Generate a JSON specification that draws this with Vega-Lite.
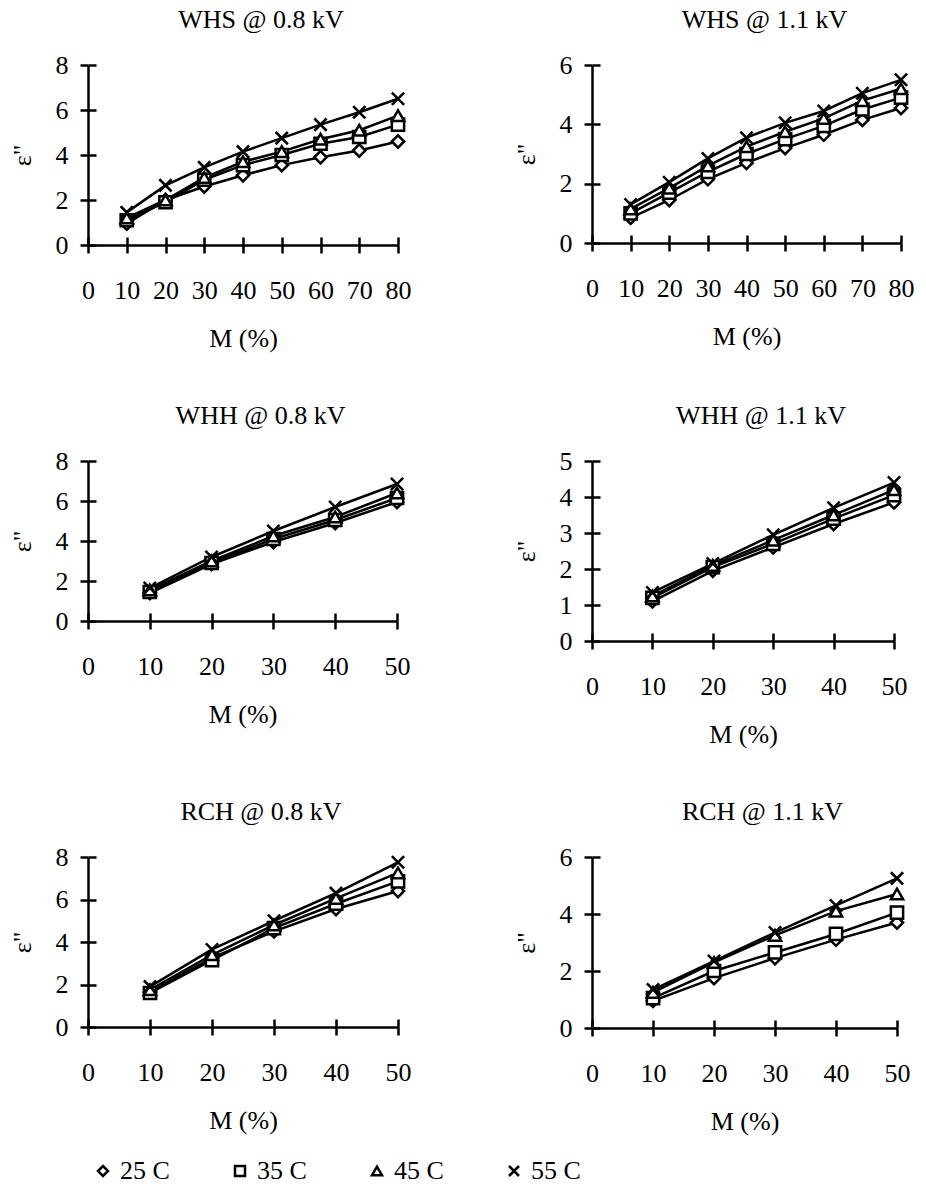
{
  "$schema": "https://vega.github.io/schema/vega-lite/v6.json",
  "padding": {"left": 9, "top": 7, "right": 5, "bottom": 5},
  "background": "white",
  "data": {"values": [
    {"p":"WHS08","M":10,"T":"25 C","e":0.95},{"p":"WHS08","M":20,"T":"25 C","e":2.0},{"p":"WHS08","M":30,"T":"25 C","e":2.6},{"p":"WHS08","M":40,"T":"25 C","e":3.1},{"p":"WHS08","M":50,"T":"25 C","e":3.55},{"p":"WHS08","M":60,"T":"25 C","e":3.9},{"p":"WHS08","M":70,"T":"25 C","e":4.2},{"p":"WHS08","M":80,"T":"25 C","e":4.6},
    {"p":"WHS08","M":10,"T":"35 C","e":1.1},{"p":"WHS08","M":20,"T":"35 C","e":1.9},{"p":"WHS08","M":30,"T":"35 C","e":2.9},{"p":"WHS08","M":40,"T":"35 C","e":3.55},{"p":"WHS08","M":50,"T":"35 C","e":4.0},{"p":"WHS08","M":60,"T":"35 C","e":4.5},{"p":"WHS08","M":70,"T":"35 C","e":4.8},{"p":"WHS08","M":80,"T":"35 C","e":5.35},
    {"p":"WHS08","M":10,"T":"45 C","e":1.2},{"p":"WHS08","M":20,"T":"45 C","e":2.0},{"p":"WHS08","M":30,"T":"45 C","e":3.0},{"p":"WHS08","M":40,"T":"45 C","e":3.7},{"p":"WHS08","M":50,"T":"45 C","e":4.15},{"p":"WHS08","M":60,"T":"45 C","e":4.7},{"p":"WHS08","M":70,"T":"45 C","e":5.1},{"p":"WHS08","M":80,"T":"45 C","e":5.75},
    {"p":"WHS08","M":10,"T":"55 C","e":1.45},{"p":"WHS08","M":20,"T":"55 C","e":2.65},{"p":"WHS08","M":30,"T":"55 C","e":3.45},{"p":"WHS08","M":40,"T":"55 C","e":4.15},{"p":"WHS08","M":50,"T":"55 C","e":4.75},{"p":"WHS08","M":60,"T":"55 C","e":5.35},{"p":"WHS08","M":70,"T":"55 C","e":5.9},{"p":"WHS08","M":80,"T":"55 C","e":6.5},
    {"p":"WHS11","M":10,"T":"25 C","e":0.85},{"p":"WHS11","M":20,"T":"25 C","e":1.45},{"p":"WHS11","M":30,"T":"25 C","e":2.15},{"p":"WHS11","M":40,"T":"25 C","e":2.7},{"p":"WHS11","M":50,"T":"25 C","e":3.2},{"p":"WHS11","M":60,"T":"25 C","e":3.65},{"p":"WHS11","M":70,"T":"25 C","e":4.15},{"p":"WHS11","M":80,"T":"25 C","e":4.55},
    {"p":"WHS11","M":10,"T":"35 C","e":1.0},{"p":"WHS11","M":20,"T":"35 C","e":1.7},{"p":"WHS11","M":30,"T":"35 C","e":2.4},{"p":"WHS11","M":40,"T":"35 C","e":3.0},{"p":"WHS11","M":50,"T":"35 C","e":3.5},{"p":"WHS11","M":60,"T":"35 C","e":3.95},{"p":"WHS11","M":70,"T":"35 C","e":4.5},{"p":"WHS11","M":80,"T":"35 C","e":4.9},
    {"p":"WHS11","M":10,"T":"45 C","e":1.15},{"p":"WHS11","M":20,"T":"45 C","e":1.85},{"p":"WHS11","M":30,"T":"45 C","e":2.6},{"p":"WHS11","M":40,"T":"45 C","e":3.25},{"p":"WHS11","M":50,"T":"45 C","e":3.75},{"p":"WHS11","M":60,"T":"45 C","e":4.2},{"p":"WHS11","M":70,"T":"45 C","e":4.8},{"p":"WHS11","M":80,"T":"45 C","e":5.2},
    {"p":"WHS11","M":10,"T":"55 C","e":1.3},{"p":"WHS11","M":20,"T":"55 C","e":2.05},{"p":"WHS11","M":30,"T":"55 C","e":2.85},{"p":"WHS11","M":40,"T":"55 C","e":3.55},{"p":"WHS11","M":50,"T":"55 C","e":4.05},{"p":"WHS11","M":60,"T":"55 C","e":4.45},{"p":"WHS11","M":70,"T":"55 C","e":5.05},{"p":"WHS11","M":80,"T":"55 C","e":5.5},
    {"p":"WHH08","M":10,"T":"25 C","e":1.4},{"p":"WHH08","M":20,"T":"25 C","e":2.85},{"p":"WHH08","M":30,"T":"25 C","e":3.95},{"p":"WHH08","M":40,"T":"25 C","e":4.9},{"p":"WHH08","M":50,"T":"25 C","e":5.95},
    {"p":"WHH08","M":10,"T":"35 C","e":1.45},{"p":"WHH08","M":20,"T":"35 C","e":2.9},{"p":"WHH08","M":30,"T":"35 C","e":4.1},{"p":"WHH08","M":40,"T":"35 C","e":5.05},{"p":"WHH08","M":50,"T":"35 C","e":6.15},
    {"p":"WHH08","M":10,"T":"45 C","e":1.55},{"p":"WHH08","M":20,"T":"45 C","e":3.0},{"p":"WHH08","M":30,"T":"45 C","e":4.25},{"p":"WHH08","M":40,"T":"45 C","e":5.2},{"p":"WHH08","M":50,"T":"45 C","e":6.4},
    {"p":"WHH08","M":10,"T":"55 C","e":1.65},{"p":"WHH08","M":20,"T":"55 C","e":3.2},{"p":"WHH08","M":30,"T":"55 C","e":4.5},{"p":"WHH08","M":40,"T":"55 C","e":5.7},{"p":"WHH08","M":50,"T":"55 C","e":6.85},
    {"p":"WHH11","M":10,"T":"25 C","e":1.1},{"p":"WHH11","M":20,"T":"25 C","e":1.95},{"p":"WHH11","M":30,"T":"25 C","e":2.6},{"p":"WHH11","M":40,"T":"25 C","e":3.25},{"p":"WHH11","M":50,"T":"25 C","e":3.85},
    {"p":"WHH11","M":10,"T":"35 C","e":1.2},{"p":"WHH11","M":20,"T":"35 C","e":2.05},{"p":"WHH11","M":30,"T":"35 C","e":2.7},{"p":"WHH11","M":40,"T":"35 C","e":3.4},{"p":"WHH11","M":50,"T":"35 C","e":4.05},
    {"p":"WHH11","M":10,"T":"45 C","e":1.25},{"p":"WHH11","M":20,"T":"45 C","e":2.1},{"p":"WHH11","M":30,"T":"45 C","e":2.8},{"p":"WHH11","M":40,"T":"45 C","e":3.5},{"p":"WHH11","M":50,"T":"45 C","e":4.2},
    {"p":"WHH11","M":10,"T":"55 C","e":1.35},{"p":"WHH11","M":20,"T":"55 C","e":2.15},{"p":"WHH11","M":30,"T":"55 C","e":2.95},{"p":"WHH11","M":40,"T":"55 C","e":3.7},{"p":"WHH11","M":50,"T":"55 C","e":4.4},
    {"p":"RCH08","M":10,"T":"25 C","e":1.65},{"p":"RCH08","M":20,"T":"25 C","e":3.25},{"p":"RCH08","M":30,"T":"25 C","e":4.5},{"p":"RCH08","M":40,"T":"25 C","e":5.55},{"p":"RCH08","M":50,"T":"25 C","e":6.4},
    {"p":"RCH08","M":10,"T":"35 C","e":1.6},{"p":"RCH08","M":20,"T":"35 C","e":3.15},{"p":"RCH08","M":30,"T":"35 C","e":4.65},{"p":"RCH08","M":40,"T":"35 C","e":5.8},{"p":"RCH08","M":50,"T":"35 C","e":6.85},
    {"p":"RCH08","M":10,"T":"45 C","e":1.75},{"p":"RCH08","M":20,"T":"45 C","e":3.4},{"p":"RCH08","M":30,"T":"45 C","e":4.8},{"p":"RCH08","M":40,"T":"45 C","e":6.05},{"p":"RCH08","M":50,"T":"45 C","e":7.25},
    {"p":"RCH08","M":10,"T":"55 C","e":1.9},{"p":"RCH08","M":20,"T":"55 C","e":3.65},{"p":"RCH08","M":30,"T":"55 C","e":5.0},{"p":"RCH08","M":40,"T":"55 C","e":6.3},{"p":"RCH08","M":50,"T":"55 C","e":7.75},
    {"p":"RCH11","M":10,"T":"25 C","e":0.95},{"p":"RCH11","M":20,"T":"25 C","e":1.75},{"p":"RCH11","M":30,"T":"25 C","e":2.45},{"p":"RCH11","M":40,"T":"25 C","e":3.1},{"p":"RCH11","M":50,"T":"25 C","e":3.7},
    {"p":"RCH11","M":10,"T":"35 C","e":1.05},{"p":"RCH11","M":20,"T":"35 C","e":2.0},{"p":"RCH11","M":30,"T":"35 C","e":2.65},{"p":"RCH11","M":40,"T":"35 C","e":3.3},{"p":"RCH11","M":50,"T":"35 C","e":4.05},
    {"p":"RCH11","M":10,"T":"45 C","e":1.25},{"p":"RCH11","M":20,"T":"45 C","e":2.3},{"p":"RCH11","M":30,"T":"45 C","e":3.25},{"p":"RCH11","M":40,"T":"45 C","e":4.1},{"p":"RCH11","M":50,"T":"45 C","e":4.7},
    {"p":"RCH11","M":10,"T":"55 C","e":1.35},{"p":"RCH11","M":20,"T":"55 C","e":2.35},{"p":"RCH11","M":30,"T":"55 C","e":3.35},{"p":"RCH11","M":40,"T":"55 C","e":4.3},{"p":"RCH11","M":50,"T":"55 C","e":5.25}
  ]},
  "columns": 2,
  "bounds": "flush",
  "spacing": {"row": 216, "column": 194},
  "resolve": {"scale": {"shape": "shared"}, "legend": {"shape": "shared"}},
  "concat": [
    {
      "width": 310, "height": 180,
      "title": {"text": "WHS @ 0.8 kV", "dx": 18},
      "transform": [{"filter": "datum.p === 'WHS08'"}],
      "resolve": {"axis": {"x": "independent", "y": "independent"}},
      "layer": [
        {"mark": {"type": "line", "color": "black", "strokeWidth": 2.5},
         "encoding": {
           "x": {"field": "M", "type": "quantitative", "scale": {"domain": [0, 80], "nice": false}, "axis": {"values": [0,10,20,30,40,50,60,70,80], "title": "M (%)"}},
           "y": {"field": "e", "type": "quantitative", "scale": {"domain": [0, 8], "nice": false}, "axis": {"values": [0,2,4,6,8], "title": "ε\"", "orient": "left"}},
           "detail": {"field": "T"}}},
        {"mark": {"type": "point", "filled": true, "fill": "white", "stroke": "black", "strokeWidth": 2.5, "size": 150, "opacity": 1},
         "encoding": {
           "x": {"field": "M", "type": "quantitative", "axis": {"orient": "top", "offset": -180, "labels": false, "domain": false, "title": null, "values": [0,10,20,30,40,50,60,70,80]}},
           "y": {"field": "e", "type": "quantitative", "axis": {"orient": "right", "offset": -310, "labels": false, "domain": false, "title": null, "values": [0,2,4,6,8]}},
           "shape": {"field": "T", "type": "nominal", "scale": {"domain": ["25 C","35 C","45 C","55 C"], "range": ["diamond","square","triangle-up","M-1,-1L1,1M1,-1L-1,1"]}, "legend": {"orient": "none", "legendX": 2, "legendY": 1093, "columns": 4, "columnPadding": 57, "title": null}}}}
      ]
    },
    {
      "width": 309, "height": 178,
      "title": {"text": "WHS @ 1.1 kV", "dx": 18},
      "transform": [{"filter": "datum.p === 'WHS11'"}],
      "resolve": {"axis": {"x": "independent", "y": "independent"}},
      "layer": [
        {"mark": {"type": "line", "color": "black", "strokeWidth": 2.5},
         "encoding": {
           "x": {"field": "M", "type": "quantitative", "scale": {"domain": [0, 80], "nice": false}, "axis": {"values": [0,10,20,30,40,50,60,70,80], "title": "M (%)"}},
           "y": {"field": "e", "type": "quantitative", "scale": {"domain": [0, 6], "nice": false}, "axis": {"values": [0,2,4,6], "title": "ε\"", "orient": "left"}},
           "detail": {"field": "T"}}},
        {"mark": {"type": "point", "filled": true, "fill": "white", "stroke": "black", "strokeWidth": 2.5, "size": 150, "opacity": 1},
         "encoding": {
           "x": {"field": "M", "type": "quantitative", "axis": {"orient": "top", "offset": -178, "labels": false, "domain": false, "title": null, "values": [0,10,20,30,40,50,60,70,80]}},
           "y": {"field": "e", "type": "quantitative", "axis": {"orient": "right", "offset": -309, "labels": false, "domain": false, "title": null, "values": [0,2,4,6]}},
           "shape": {"field": "T", "type": "nominal", "scale": {"domain": ["25 C","35 C","45 C","55 C"], "range": ["diamond","square","triangle-up","M-1,-1L1,1M1,-1L-1,1"]}, "legend": {"orient": "none", "legendX": 2, "legendY": 1093, "columns": 4, "columnPadding": 57, "title": null}}}}
      ]
    },
    {
      "width": 309, "height": 160,
      "title": {"text": "WHH @ 0.8 kV", "dx": 18},
      "transform": [{"filter": "datum.p === 'WHH08'"}],
      "resolve": {"axis": {"x": "independent", "y": "independent"}},
      "layer": [
        {"mark": {"type": "line", "color": "black", "strokeWidth": 2.5},
         "encoding": {
           "x": {"field": "M", "type": "quantitative", "scale": {"domain": [0, 50], "nice": false}, "axis": {"values": [0,10,20,30,40,50], "title": "M (%)"}},
           "y": {"field": "e", "type": "quantitative", "scale": {"domain": [0, 8], "nice": false}, "axis": {"values": [0,2,4,6,8], "title": "ε\"", "orient": "left"}},
           "detail": {"field": "T"}}},
        {"mark": {"type": "point", "filled": true, "fill": "white", "stroke": "black", "strokeWidth": 2.5, "size": 150, "opacity": 1},
         "encoding": {
           "x": {"field": "M", "type": "quantitative", "axis": {"orient": "top", "offset": -160, "labels": false, "domain": false, "title": null, "values": [0,10,20,30,40,50]}},
           "y": {"field": "e", "type": "quantitative", "axis": {"orient": "right", "offset": -309, "labels": false, "domain": false, "title": null, "values": [0,2,4,6,8]}},
           "shape": {"field": "T", "type": "nominal", "scale": {"domain": ["25 C","35 C","45 C","55 C"], "range": ["diamond","square","triangle-up","M-1,-1L1,1M1,-1L-1,1"]}, "legend": {"orient": "none", "legendX": 2, "legendY": 1093, "columns": 4, "columnPadding": 57, "title": null}}}}
      ]
    },
    {
      "width": 302, "height": 180,
      "title": {"text": "WHH @ 1.1 kV", "dx": 18},
      "transform": [{"filter": "datum.p === 'WHH11'"}],
      "resolve": {"axis": {"x": "independent", "y": "independent"}},
      "layer": [
        {"mark": {"type": "line", "color": "black", "strokeWidth": 2.5},
         "encoding": {
           "x": {"field": "M", "type": "quantitative", "scale": {"domain": [0, 50], "nice": false}, "axis": {"values": [0,10,20,30,40,50], "title": "M (%)"}},
           "y": {"field": "e", "type": "quantitative", "scale": {"domain": [0, 5], "nice": false}, "axis": {"values": [0,1,2,3,4,5], "title": "ε\"", "orient": "left"}},
           "detail": {"field": "T"}}},
        {"mark": {"type": "point", "filled": true, "fill": "white", "stroke": "black", "strokeWidth": 2.5, "size": 150, "opacity": 1},
         "encoding": {
           "x": {"field": "M", "type": "quantitative", "axis": {"orient": "top", "offset": -180, "labels": false, "domain": false, "title": null, "values": [0,10,20,30,40,50]}},
           "y": {"field": "e", "type": "quantitative", "axis": {"orient": "right", "offset": -302, "labels": false, "domain": false, "title": null, "values": [0,1,2,3,4,5]}},
           "shape": {"field": "T", "type": "nominal", "scale": {"domain": ["25 C","35 C","45 C","55 C"], "range": ["diamond","square","triangle-up","M-1,-1L1,1M1,-1L-1,1"]}, "legend": {"orient": "none", "legendX": 2, "legendY": 1093, "columns": 4, "columnPadding": 57, "title": null}}}}
      ]
    },
    {
      "width": 310, "height": 170,
      "title": {"text": "RCH @ 0.8 kV", "dx": 18},
      "transform": [{"filter": "datum.p === 'RCH08'"}],
      "resolve": {"axis": {"x": "independent", "y": "independent"}},
      "layer": [
        {"mark": {"type": "line", "color": "black", "strokeWidth": 2.5},
         "encoding": {
           "x": {"field": "M", "type": "quantitative", "scale": {"domain": [0, 50], "nice": false}, "axis": {"values": [0,10,20,30,40,50], "title": "M (%)"}},
           "y": {"field": "e", "type": "quantitative", "scale": {"domain": [0, 8], "nice": false}, "axis": {"values": [0,2,4,6,8], "title": "ε\"", "orient": "left"}},
           "detail": {"field": "T"}}},
        {"mark": {"type": "point", "filled": true, "fill": "white", "stroke": "black", "strokeWidth": 2.5, "size": 150, "opacity": 1},
         "encoding": {
           "x": {"field": "M", "type": "quantitative", "axis": {"orient": "top", "offset": -170, "labels": false, "domain": false, "title": null, "values": [0,10,20,30,40,50]}},
           "y": {"field": "e", "type": "quantitative", "axis": {"orient": "right", "offset": -310, "labels": false, "domain": false, "title": null, "values": [0,2,4,6,8]}},
           "shape": {"field": "T", "type": "nominal", "scale": {"domain": ["25 C","35 C","45 C","55 C"], "range": ["diamond","square","triangle-up","M-1,-1L1,1M1,-1L-1,1"]}, "legend": {"orient": "none", "legendX": 2, "legendY": 1093, "columns": 4, "columnPadding": 57, "title": null}}}}
      ]
    },
    {
      "width": 305, "height": 171,
      "title": {"text": "RCH @ 1.1 kV", "dx": 18},
      "transform": [{"filter": "datum.p === 'RCH11'"}],
      "resolve": {"axis": {"x": "independent", "y": "independent"}},
      "layer": [
        {"mark": {"type": "line", "color": "black", "strokeWidth": 2.5},
         "encoding": {
           "x": {"field": "M", "type": "quantitative", "scale": {"domain": [0, 50], "nice": false}, "axis": {"values": [0,10,20,30,40,50], "title": "M (%)"}},
           "y": {"field": "e", "type": "quantitative", "scale": {"domain": [0, 6], "nice": false}, "axis": {"values": [0,2,4,6], "title": "ε\"", "orient": "left"}},
           "detail": {"field": "T"}}},
        {"mark": {"type": "point", "filled": true, "fill": "white", "stroke": "black", "strokeWidth": 2.5, "size": 150, "opacity": 1},
         "encoding": {
           "x": {"field": "M", "type": "quantitative", "axis": {"orient": "top", "offset": -171, "labels": false, "domain": false, "title": null, "values": [0,10,20,30,40,50]}},
           "y": {"field": "e", "type": "quantitative", "axis": {"orient": "right", "offset": -305, "labels": false, "domain": false, "title": null, "values": [0,2,4,6]}},
           "shape": {"field": "T", "type": "nominal", "scale": {"domain": ["25 C","35 C","45 C","55 C"], "range": ["diamond","square","triangle-up","M-1,-1L1,1M1,-1L-1,1"]}, "legend": {"orient": "none", "legendX": 2, "legendY": 1093, "columns": 4, "columnPadding": 57, "title": null}}}}
      ]
    }
  ],
  "config": {
    "view": {"stroke": null},
    "font": "Liberation Serif",
    "title": {"font": "Liberation Serif", "fontSize": 26, "fontWeight": "normal", "color": "black", "offset": 19, "anchor": "middle"},
    "axis": {"grid": false, "domainColor": "black", "domainWidth": 2.5, "tickColor": "black", "tickWidth": 2.5, "tickSize": 8, "labelFont": "Liberation Serif", "labelFontSize": 26, "labelColor": "black", "titleFont": "Liberation Serif", "titleFontSize": 26, "titleFontWeight": "normal", "titleColor": "black", "format": "d", "labelOverlap": false, "labelFlush": false},
    "axisX": {"labelPadding": 24, "titlePadding": 22},
    "axisY": {"labelPadding": 12, "titlePadding": 20},
    "legend": {"labelFont": "Liberation Serif", "labelFontSize": 26, "labelColor": "black", "symbolStrokeWidth": 2.5, "labelOffset": 4, "padding": 0}
  }
}
